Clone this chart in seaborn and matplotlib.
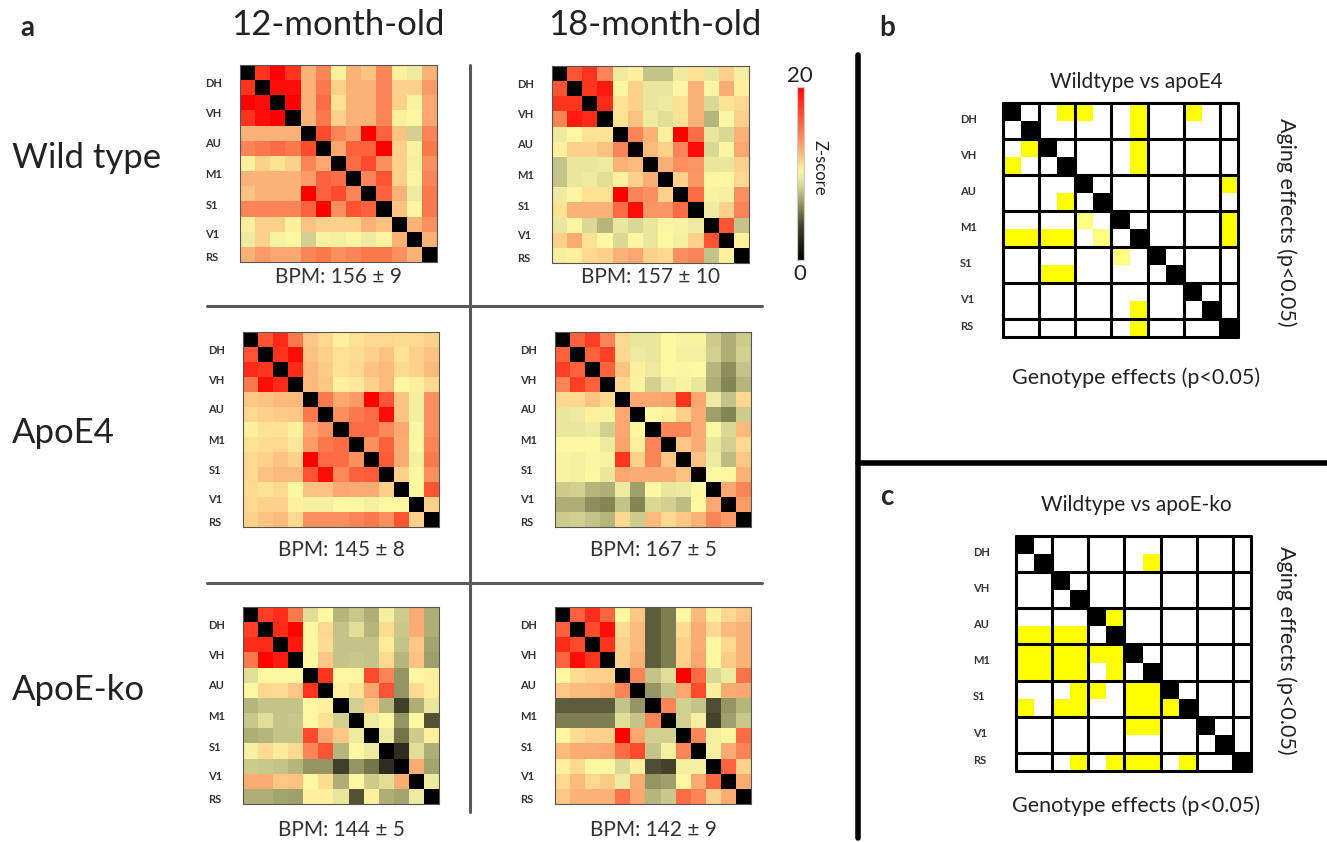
import numpy as np
import matplotlib
matplotlib.use("Agg")
import matplotlib.pyplot as plt
import seaborn as sns
from matplotlib.colors import LinearSegmentedColormap, ListedColormap
from matplotlib.lines import Line2D

# ---------------- data ----------------
regions = ["DH", "VH", "AU", "M1", "S1", "V1", "RS"]
ages = ["12-month-old", "18-month-old"]
genotypes = ["Wild type", "ApoE4", "ApoE-ko"]
bpm_labels = [["BPM: 156 ± 9", "BPM: 157 ± 10"],
              ["BPM: 145 ± 8", "BPM: 167 ± 5"],
              ["BPM: 144 ± 5", "BPM: 142 ± 9"]]
zmin, zmax = 0, 20

# upper triangles (row i, columns i+1..12) of the Z-score matrices
wt12 = [
    [18, 20, 18, 12.5, 14.5, 10.5, 12.5, 12, 14.5, 10.5, 9.5, 12.5],
    [19.5, 19.5, 12.5, 15, 11.5, 12.5, 12.5, 14.5, 11.5, 11.5, 13.5],
    [20, 12.5, 15.5, 11, 12.5, 12.5, 14.5, 11.5, 10, 13],
    [12.5, 15, 11.5, 12.5, 12.5, 14.5, 10.5, 10.3, 13],
    [17, 14.5, 13.5, 20, 16, 12, 8.5, 14.5],
    [13, 16, 16, 20, 11.5, 10, 15],
    [15.5, 17, 14, 11.5, 9.8, 14],
    [14.5, 16.5, 11.5, 10.2, 14.5],
    [16, 12.5, 9.5, 15],
    [12, 10.2, 15],
    [12.5, 14],
    [12.5],
]
wt18 = [
    [16.5, 18, 14.5, 9.5, 10.5, 8, 8, 9.5, 11, 9.3, 11.5, 9.8],
    [18, 19, 10.3, 11.5, 9.3, 9.3, 10.2, 12.5, 10.2, 12.8, 10.5],
    [18.5, 11, 11.5, 9.3, 9.5, 11, 12.5, 8.8, 11, 11.3],
    [11, 12, 9.5, 9, 11, 12.5, 7.5, 10.3, 11.5],
    [14.5, 12.5, 10.5, 20, 15.5, 9.3, 8.8, 12.5],
    [12.3, 11.5, 14.5, 19.5, 8.8, 10.2, 13],
    [12.7, 14, 13.8, 9.3, 9.3, 11.5],
    [11.5, 13.7, 10.2, 10.3, 11.3],
    [15.5, 10, 9.8, 14],
    [9.5, 11.5, 14.5],
    [16.5, 8],
    [10.5],
]
e4_12 = [
    [16.5, 18.5, 15, 11.8, 11.3, 10.5, 11, 11.3, 11.3, 11.2, 11.3, 11.5],
    [18, 19.5, 12, 11.5, 11, 11.2, 11.5, 12, 11, 11.5, 12],
    [18.5, 12.3, 11.7, 11, 11.3, 12, 12.3, 11.3, 11.5, 12.2],
    [12.3, 11.8, 10.5, 10.8, 11.5, 12.3, 10.3, 10.5, 11.3],
    [15, 13, 13.5, 20, 16.5, 12, 9.8, 14],
    [14, 15, 15.5, 19.5, 12, 9.8, 14],
    [15.5, 15.5, 14.3, 13, 10.3, 14],
    [14, 16, 12.8, 10.3, 14.5],
    [16.2, 12.8, 9.8, 15],
    [11.5, 10.3, 14],
    [10.3, 16.5],
    [11.5],
]
e4_18 = [
    [16, 17.5, 14.5, 11.3, 9.3, 9.3, 10.3, 10, 10, 8.3, 7.3, 8.3],
    [16, 17.5, 11.3, 9.5, 9.3, 10.3, 9.8, 9.8, 8.5, 7.3, 8.5],
    [16, 12, 10.5, 9.5, 10.3, 10.2, 10.3, 7.5, 6.3, 8],
    [11.3, 10, 8.5, 9.5, 10, 9.3, 7.3, 6, 7.5],
    [13, 13, 13.2, 18, 13, 9.5, 8, 11.3],
    [10.3, 10.5, 11.5, 12.8, 6.8, 6, 8.3],
    [14.5, 14.5, 12.8, 10.3, 8.8, 12.3],
    [11.8, 12.8, 9.3, 8.5, 11.3],
    [12, 9.5, 7.8, 11.8],
    [10.3, 10.3, 12.5],
    [13, 14.5],
    [13.5],
]
ko12 = [
    [17.5, 18.3, 15, 9, 10.3, 7.5, 8.2, 7.3, 9.8, 8.3, 12.8, 7.3],
    [18.5, 19.8, 10.3, 11.3, 8, 9, 7.5, 11.2, 8.2, 12.8, 7.3],
    [19, 10.3, 11.2, 8, 8, 8, 10.7, 8, 11.8, 7],
    [10.3, 11.8, 8, 8.2, 8, 11.3, 7.5, 12, 6.8],
    [18, 10.3, 10.3, 17, 14.5, 6.5, 10.3, 10.5],
    [10.5, 11, 13, 16.5, 6.5, 11.2, 10.5],
    [8.5, 11.8, 7.5, 3.8, 7.3, 9.3],
    [9.5, 10.3, 6.5, 10.3, 4.5],
    [9.5, 5.5, 8.3, 10.5],
    [2.8, 9, 7.3],
    [12.8, 7],
    [9.5],
]
ko18 = [
    [16, 18.3, 15.8, 10.3, 11.8, 4.8, 5.8, 10.3, 12.3, 10.5, 11.3, 11.8],
    [17, 19.5, 11.2, 12.2, 4.8, 5.8, 11.2, 12.8, 11.3, 12.3, 12.5],
    [18, 11.5, 12.3, 4.8, 5.8, 11.5, 12.8, 10.3, 11.3, 12.5],
    [11.5, 12.5, 4.8, 5.8, 11.5, 13, 10.3, 11.7, 12.5],
    [14.5, 8, 9, 20, 15.5, 8.8, 9.5, 15.3],
    [6.5, 8, 13, 17, 10.5, 12.8, 13],
    [14.5, 8.5, 8, 4.3, 6.5, 7.5],
    [8.5, 9.8, 4, 6.8, 8.2],
    [14.5, 9.8, 10.3, 15.5],
    [9.8, 12.8, 14.5],
    [15.8, 11.5],
    [12.8],
]

# significance maps: '.' n.s., 'p' weak, 'y' p<0.05 (diagonal drawn black)
sig_apoe4 = [
    "...yy..y..y..",
    ".......y.....",
    ".y.....y.....",
    "y......y.....",
    "............y",
    "...y.........",
    "....p.......y",
    "yyyy.p......y",
    "......p......",
    "..yy.........",
    ".............",
    ".......y.....",
    ".......y.....",
]
sig_apoeko = [
    ".............",
    ".......y.....",
    ".............",
    ".............",
    ".....y.......",
    "yyyy.........",
    "yyyyyy.......",
    "yyyy.y.......",
    "...yy.yy.....",
    "y.yy..yyy....",
    "......yy.....",
    ".............",
    "...y.yyy.y...",
]
panel_titles = ["Wildtype vs apoE4", "Wildtype vs apoE-ko"]
xlab = "Genotype effects (p<0.05)"
ylab = "Aging effects (p<0.05)"

# ---------------- helpers ----------------
def full_matrix(upper):
    n = len(upper) + 1
    m = np.zeros((n, n))
    for i, row in enumerate(upper):
        for k, v in enumerate(row):
            j = i + 1 + k
            m[i, j] = v
            m[j, i] = v
    return m


def sig_matrix(rows):
    code = {".": 0, "p": 1, "y": 2}
    m = np.array([[code[c] for c in r] for r in rows], dtype=float)
    np.fill_diagonal(m, 3)
    return m


sns.set_theme(style="white")
plt.rcParams["font.family"] = ["Lato", "DejaVu Sans"]

W, H = 1327, 842
fig = plt.figure(figsize=(W / 100, H / 100), dpi=100)


def rect(x0, y0, x1, y1):
    return [x0 / W, 1 - y1 / H, (x1 - x0) / W, (y1 - y0) / H]


def ftext(x, y, s, **kw):
    fig.text(x / W, 1 - y / H, s, **kw)


zcmap = LinearSegmentedColormap.from_list("zscore", [
    (0.0, "#000000"),
    (0.20, "#45422c"),
    (0.30, "#858556"),
    (0.40, "#c4c488"),
    (0.475, "#eeeaa0"),
    (0.515, "#fff7a2"),
    (0.565, "#fdd88e"),
    (0.625, "#fbb378"),
    (0.725, "#fb8556"),
    (0.825, "#fe5535"),
    (0.925, "#ff2a18"),
    (1.0, "#ff0000"),
])

tick_pos = [1.15, 3.15, 5.1, 7.15, 9.2, 11.1, 12.65]

mats = [[wt12, wt18], [e4_12, e4_18], [ko12, ko18]]
boxes = [[(240, 65, 437, 262), (552, 66, 749, 263)],
         [(243, 332, 439, 527), (555, 332, 751, 527)],
         [(243, 607, 439, 804), (555, 607, 751, 804)]]
bpm_y = [277, 550, 830]

cax = fig.add_axes(rect(797, 87, 804, 260))
first = True
for r in range(3):
    for c in range(2):
        ax = fig.add_axes(rect(*boxes[r][c]))
        data = full_matrix(mats[r][c])
        sns.heatmap(data, ax=ax, cmap=zcmap, vmin=zmin, vmax=zmax,
                    cbar=first, cbar_ax=cax if first else None,
                    xticklabels=False, yticklabels=False)
        first = False
        ax.set_yticks(tick_pos)
        ax.set_yticklabels(regions, fontsize=8, fontweight="bold",
                           color="#333333", ha="left")
        ax.tick_params(axis="y", length=0, pad=25)
        ax.set_xticks([])
        for sp in ax.spines.values():
            sp.set_visible(True)
            sp.set_linewidth(0.8)
            sp.set_color("#555555")
        x0, y0, x1, y1 = boxes[r][c]
        ftext((x0 + x1) / 2, bpm_y[r], bpm_labels[r][c], fontsize=15,
              ha="center", va="center", color="#333333")

# colorbar styling
cax.set_yticks([])
cax.set_xticks([])
for sp in cax.spines.values():
    sp.set_visible(True)
    sp.set_color("#cccccc")
    sp.set_linewidth(0.8)
ftext(800, 76, str(zmax), fontsize=16, ha="center", va="center", color="#222222")
ftext(800, 274, str(zmin), fontsize=16, ha="center", va="center", color="#222222")
ftext(820, 168, "Z-score", fontsize=12, rotation=270, ha="center", va="center",
      color="#222222")

# column / row titles
ftext(338, 25, ages[0], fontsize=25, ha="center", va="center", color="#222222")
ftext(655, 25, ages[1], fontsize=25, ha="center", va="center", color="#222222")
ftext(12, 158, genotypes[0], fontsize=25, ha="left", va="center", color="#222222")
ftext(12, 433, genotypes[1], fontsize=25, ha="left", va="center", color="#222222")
ftext(12, 690, genotypes[2], fontsize=25, ha="left", va="center", color="#222222")

ftext(27, 28, "a", fontsize=20, fontweight="bold", ha="center", va="center")
ftext(887, 28, "b", fontsize=20, fontweight="bold", ha="center", va="center")
ftext(887, 497, "c", fontsize=20, fontweight="bold", ha="center", va="center")

# significance panels
scmap = ListedColormap(["#ffffff", "#ffff80", "#ffff00", "#000000"])
sig_boxes = [(1003, 103, 1238, 337), (1016, 536, 1251, 771)]
sig_data = [sig_apoe4, sig_apoeko]
title_y = [82, 505]
xlab_y = [378, 806]
ylab_y = [222, 650]
bounds = [0, 2, 4, 6, 8, 10, 12, 13]
for k in range(2):
    ax = fig.add_axes(rect(*sig_boxes[k]))
    sns.heatmap(sig_matrix(sig_data[k]), ax=ax, cmap=scmap, vmin=-0.5, vmax=3.5,
                cbar=False, xticklabels=False, yticklabels=False)
    for b in bounds:
        ax.axhline(b, color="black", lw=2.2, clip_on=False)
        ax.axvline(b, color="black", lw=2.2, clip_on=False)
    ax.set_yticks([p - 0.15 for p in [1, 3, 5, 7, 9, 11, 12.5]])
    ax.set_yticklabels(regions, fontsize=8, fontweight="bold",
                       color="#333333", ha="left")
    ax.tick_params(axis="y", length=0, pad=31)
    ax.set_xticks([])
    ftext(1136, title_y[k], panel_titles[k], fontsize=15, ha="center",
          va="center", color="#222222")
    ftext(1136, xlab_y[k], xlab, fontsize=15.5, ha="center", va="center",
          color="#222222")
    ftext(1286, ylab_y[k], ylab, fontsize=15.5, rotation=270, ha="center",
          va="center", color="#222222")

# divider lines
def fline(x0, y0, x1, y1, **kw):
    fig.add_artist(Line2D([x0 / W, x1 / W], [1 - y0 / H, 1 - y1 / H],
                          transform=fig.transFigure, **kw))

fline(470, 65, 470, 812, color="#595959", lw=2.2)
fline(207, 306, 762, 306, color="#595959", lw=2.2)
fline(207, 583, 762, 583, color="#595959", lw=2.2)
fline(858, 55, 858, 838, color="black", lw=4)
fline(858, 463, 1327, 463, color="black", lw=4)

fig.savefig("out.png", dpi=100)
